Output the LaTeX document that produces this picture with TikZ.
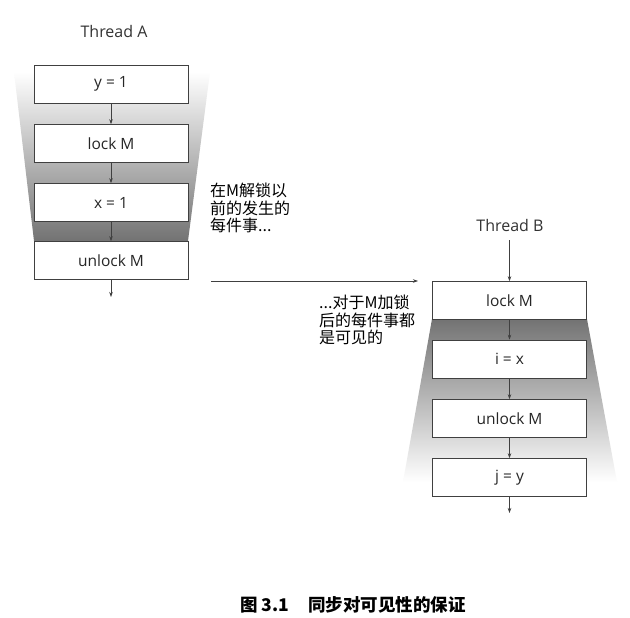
\documentclass[tikz,border=0pt]{standalone}
\usepackage{fontspec}
\setmainfont{Open Sans}
\newfontfamily\cjk{Noto Sans CJK SC}
\usetikzlibrary{arrows.meta}
\tikzset{
  opbox/.style={draw=black!75, line width=0.6pt, fill=white, minimum width=154pt, minimum height=38pt, inner sep=0pt, font=\fontsize{15.5}{18}\selectfont, text=black!85},
  flow/.style={draw=black!75, line width=0.6pt, -{Stealth[length=5pt,width=3.5pt]}},
  note/.style={align=left, inner sep=0pt, anchor=north west, font=\cjk\fontsize{16}{17.5}\selectfont},
  title/.style={font=\fontsize{16}{18}\selectfont, text=black!80}
}
\begin{document}
\begin{tikzpicture}[x=1pt,y=-1pt]
\useasboundingbox (0,0) rectangle (630,618);
\fill[white] (0,0) rectangle (630,618);
% shaded zones
\shade[top color=white, bottom color=black!55] (14,72) -- (210,72) -- (188,241) -- (34,241) -- cycle;
\shade[top color=black!55, bottom color=white] (432,319) -- (587,319) -- (617,482) -- (403,482) -- cycle;
% Thread A
\node[title] (ta) at (114,32) {Thread A};
\node[opbox] (a1) at (111,84) {y = 1};
\node[opbox] (a2) at (111,143.5) {lock M};
\node[opbox] (a3) at (111,202.5) {x = 1};
\node[opbox] (a4) at (111,260.5) {unlock M};
\coordinate (aend) at (111,297);
\draw[flow] (a1) -- (a2);
\draw[flow] (a2) -- (a3);
\draw[flow] (a3) -- (a4);
\draw[flow] (a4) -- (aend);
% Thread B
\node[title] (tb) at (510,225) {Thread B};
\coordinate (bstart) at (509.5,240);
\node[opbox] (b1) at (509.5,300.5) {lock M};
\node[opbox] (b2) at (509.5,359) {i = x};
\node[opbox] (b3) at (509.5,418.5) {unlock M};
\node[opbox] (b4) at (509.5,477.5) {j = y};
\coordinate (bend) at (509.5,513);
\draw[flow] (bstart) -- (b1);
\draw[flow] (b1) -- (b2);
\draw[flow] (b2) -- (b3);
\draw[flow] (b3) -- (b4);
\draw[flow] (b4) -- (bend);
% cross arrow
\coordinate (hs) at (211,281);
\coordinate (he) at (418,281);
\draw[flow] (hs) -- (he);
% notes
\node[note] (na) at (210,183) {在M解锁以\\前的发生的\\每件事...};
\node[note] (nb) at (319,295) {...对于M加锁\\后的每件事都\\是可见的};
% caption
\node[font=\cjk\bfseries\fontsize{17.5}{20}\selectfont] (cap) at (353,605) {图 3.1\hspace{1.1em}同步对可见性的保证};
\end{tikzpicture}
\end{document}
